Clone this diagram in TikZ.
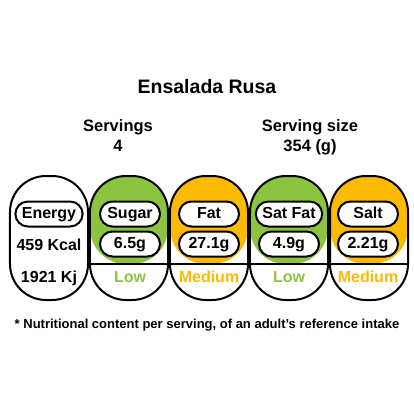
\documentclass[tikz,border=0pt]{standalone}
\usepackage{fontspec}
\setmainfont{Liberation Sans}
\definecolor{lowgreen}{RGB}{141,196,63}
\definecolor{medorange}{RGB}{252,186,0}

\begin{document}
\begin{tikzpicture}[x=1bp,y=-1bp,
		every node/.style={font=\bfseries\fontsize{16bp}{19bp}\selectfont},
		pill/.style={draw,line width=2bp,rounded corners=36bp,minimum width=78bp,minimum height=124bp,inner sep=0pt},
		band/.style={path picture={
			\fill[#1] (path picture bounding box.north west) rectangle ([yshift=36bp]path picture bounding box.south east);
			\draw[line width=2bp] ([yshift=36bp]path picture bounding box.south west) -- ([yshift=36bp]path picture bounding box.south east);}},
		tag/.style={draw,line width=2bp,fill=white,rounded corners=12.5bp,minimum width=60bp,minimum height=25bp,inner xsep=6.5bp,inner ysep=0pt,text height=11.5bp,text depth=2.5bp},
		level/.style={anchor=base,text=#1}]
		\useasboundingbox[fill=white] (0,0) rectangle (414,414);

		\node[anchor=base,font=\bfseries\fontsize{19.5bp}{22bp}\selectfont] (title) at (207,93) {Ensalada Rusa};
		\node[anchor=base,font=\bfseries\fontsize{16.5bp}{19bp}\selectfont] (servings) at (118,131) {Servings};
		\node[anchor=base,font=\bfseries\fontsize{16.5bp}{19bp}\selectfont] (servnum) at (118,151) {4};
		\node[anchor=base,font=\bfseries\fontsize{16.5bp}{19bp}\selectfont] (size) at (310,131) {Serving size};
		\node[anchor=base,font=\bfseries\fontsize{16.5bp}{19bp}\selectfont] (sizenum) at (310,151) {354 (g)};

		% energy
		\node[pill] (energy) at (49,238) {};
		\node[tag] (energytag) at (49,214) {Energy};
		\node[level=black] (kcal) at (49,250) {459 Kcal};
		\node[level=black] (kj) at (49,282) {1921 Kj};

		% sugar
		\node[pill,band=lowgreen] (sugar) at (129,238) {};
		\node[tag] (sugartag) at (130,214) {Sugar};
		\node[tag] (sugarval) at (130,244) {6.5g};
		\node[level=lowgreen] (sugarlvl) at (130,282) {Low};

		% fat
		\node[pill,band=medorange] (fat) at (209,238) {};
		\node[tag] (fattag) at (209,214) {Fat};
		\node[tag] (fatval) at (209,244) {27.1g};
		\node[level=medorange] (fatlvl) at (209,282) {Medium};

		% sat fat
		\node[pill,band=lowgreen] (satfat) at (289,238) {};
		\node[tag] (satfattag) at (289,214) {Sat Fat};
		\node[tag] (satfatval) at (289,244) {4.9g};
		\node[level=lowgreen] (satfatlvl) at (289,282) {Low};

		% salt
		\node[pill,band=medorange] (salt) at (369,238) {};
		\node[tag] (salttag) at (368,214) {Salt};
		\node[tag] (saltval) at (368,244) {2.21g};
		\node[level=medorange] (saltlvl) at (368,282) {Medium};

		\node[anchor=base,font=\bfseries\fontsize{13bp}{15bp}\selectfont] (note) at (207,328) {* Nutritional content per serving, of an adult{\char"0027}s reference intake};
	\end{tikzpicture}
\end{document}
